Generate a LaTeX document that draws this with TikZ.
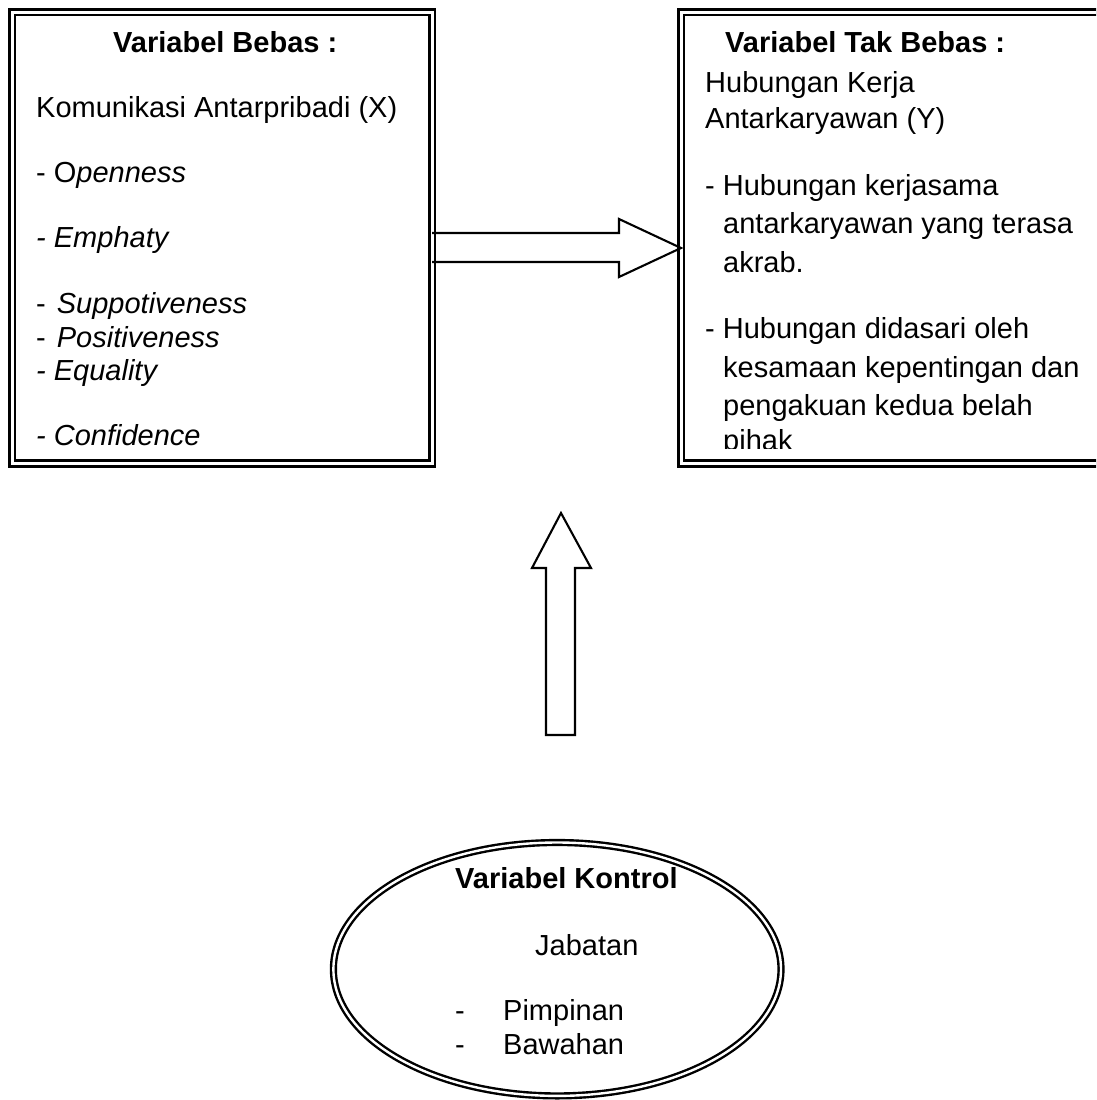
\documentclass[tikz,border=0pt]{standalone}
\usepackage{fontspec}
\setmainfont{Liberation Sans}
\usetikzlibrary{shapes.geometric}
\begin{document}
\begin{tikzpicture}[x=1pt,y=-1pt,
  dbl/.style={draw=black, line width=2.6pt, double=white, double distance=3pt, inner sep=0pt, outer sep=0pt},
  dble/.style={draw=black, line width=2.4pt, double=white, double distance=2.4pt, inner sep=0pt, outer sep=0pt},
  txt/.style={anchor=base west, inner sep=0pt, font=\fontsize{29}{33}\selectfont},
  hd/.style={anchor=base west, inner sep=0pt, font=\fontsize{29}{33}\selectfont\bfseries},
  blockarrow/.style={draw=black, line width=2.1pt, line join=miter}
]
\useasboundingbox (0,0) rectangle (1096,1100);
\clip (0,0) rectangle (1096,1100);

% boxes
\node[dbl, rectangle, minimum width=420pt, minimum height=451.5pt] (bebas) at (222,237.75) {};
\node[dbl, rectangle, minimum width=439pt, minimum height=451.5pt] (takbebas) at (900.5,237.75) {};
\node[dble, ellipse, minimum width=447.6pt, minimum height=253.4pt] (kontrol) at (557.2,969.2) {};

% left box text
\node[hd]  (lb1) at (113,52)  {Variabel Bebas :};
\node[txt] (lb2) at (36,117)  {Komunikasi Antarpribadi (X)};
\node[txt] (lb3) at (36,182)  {- O\textit{penness}};
\node[txt] (lb4) at (36,247)  {\textit{- Emphaty}};
\node[txt] (lb5) at (36,313)  {-\hspace{11pt}\textit{Suppotiveness}};
\node[txt] (lb6) at (36,347)  {-\hspace{11pt}\textit{Positiveness}};
\node[txt] (lb7) at (36,380)  {\textit{- Equality}};
\node[txt] (lb8) at (36,445)  {\textit{- Confidence}};

% right box text
\node[hd]  (rb1) at (725,52)  {Variabel Tak Bebas :};
\node[txt] (rb2) at (705,92)  {Hubungan Kerja};
\node[txt] (rb3) at (705,128) {Antarkaryawan (Y)};
\node[txt] (rb4) at (705,195) {- Hubungan kerjasama};
\node[txt] (rb5) at (723,233) {antarkaryawan yang terasa};
\node[txt] (rb6) at (723,272) {akrab.};
\node[txt] (rb7) at (705,338) {- Hubungan didasari oleh};
\node[txt] (rb8) at (723,377) {kesamaan kepentingan dan};
\node[txt] (rb9) at (723,415) {pengakuan kedua belah};
\begin{scope}
\clip (684,14) rectangle (1096,448);
\node[txt] (rb10) at (723,450) {pihak};
\end{scope}

% ellipse text
\node[hd]  (e1) at (455,888)  {Variabel Kontrol};
\node[txt] (e2) at (535,955)  {Jabatan};
\node[txt] (e3) at (455,1020) {-};
\node[txt] (e4) at (503,1020) {Pimpinan};
\node[txt] (e5) at (455,1054) {-};
\node[txt] (e6) at (503,1054) {Bawahan};

% horizontal block arrow
\coordinate (htip) at (takbebas.west |- 0,248);
\draw[blockarrow] (bebas.east |- 0,233) -- (619,233) -- (619,219) -- (htip)
  -- (619,277) -- (619,262) -- (bebas.east |- 0,262);

% vertical block arrow
\coordinate (vtip) at (561,513);
\draw[blockarrow] (546,735) -- (546,568) -- (532,568) -- (vtip)
  -- (591,568) -- (575,568) -- (575,735) -- cycle;
\end{tikzpicture}
\end{document}
